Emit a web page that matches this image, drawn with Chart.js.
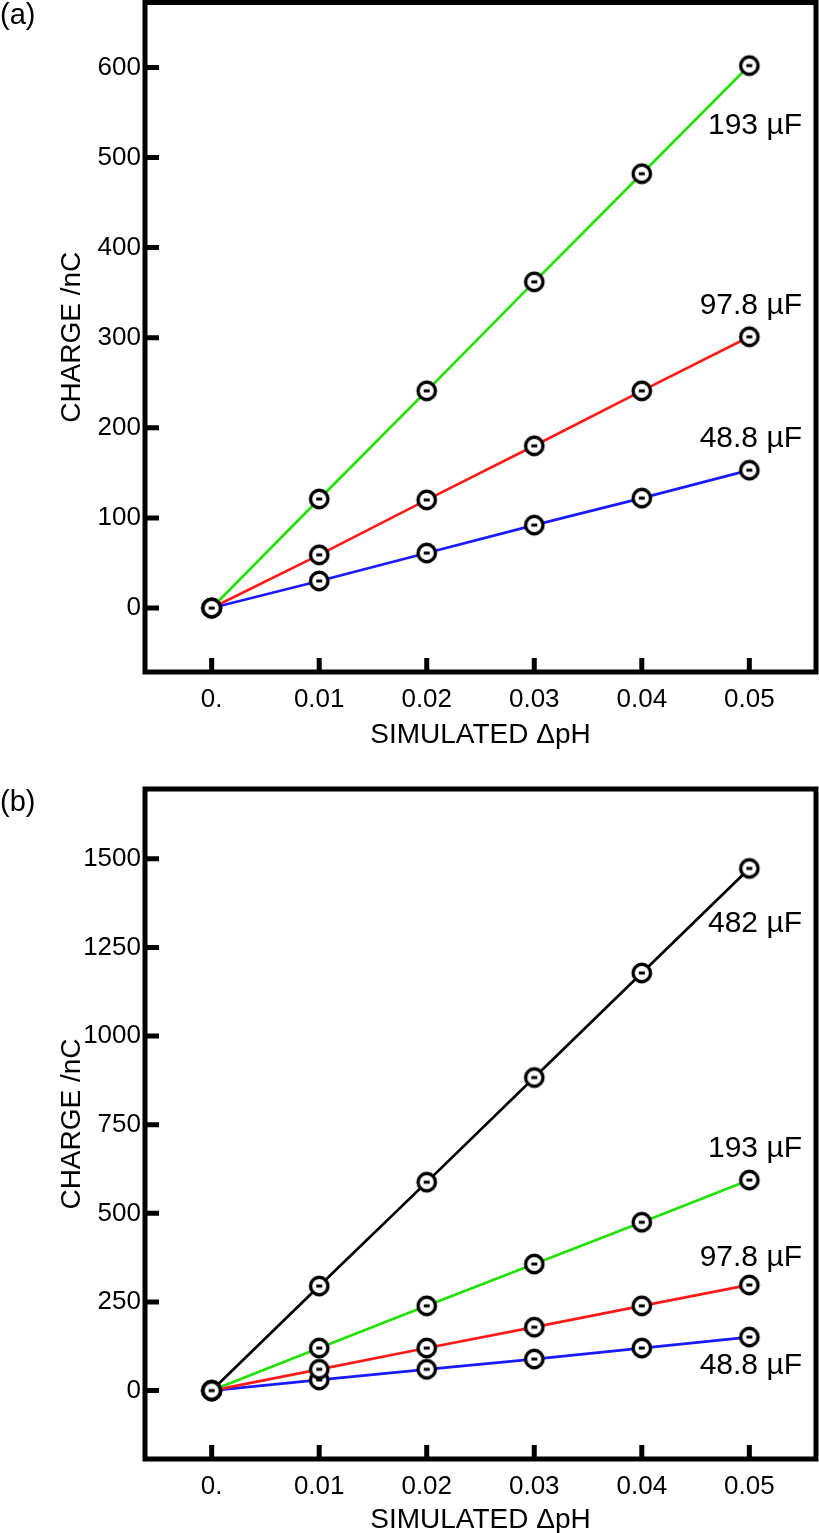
<!DOCTYPE html>
<html>
<head>
<meta charset="utf-8">
<script src="https://cdn.jsdelivr.net/npm/chart.js@4"></script>
<style>
  html, body { margin: 0; padding: 0; background: #fff; overflow: hidden; }
  body { width: 819px; height: 1533px; position: relative; font-family: "Liberation Sans", Arial, sans-serif; }
  .panel { position: absolute; left: 0; }
  .tag { position: absolute; left: 0; font-size: 29px; line-height: 1; color: #000; }
</style>
</head>
<body>
<canvas id="chartA" class="panel" width="819" height="770" style="top:0"></canvas>
<canvas id="chartB" class="panel" width="819" height="790" style="top:770px"></canvas>
<div class="tag" style="top:0">(a)</div>
<div class="tag" style="top:787px">(b)</div>
<script>
// shared x axis
const xValues = [0, 0.01, 0.02, 0.03, 0.04, 0.05];
const xTickLabels = ['0.', '0.01', '0.02', '0.03', '0.04', '0.05'];

// panel (a)
const a193 = [0, 121, 241, 362, 482, 602];
const a978 = [0, 59, 120, 180, 241, 301];
const a488 = [0, 30, 61, 92, 122, 153];
const yTicksA = [0, 100, 200, 300, 400, 500, 600];

// panel (b)
const b482 = [0, 295, 588, 883, 1178, 1473];
const b193 = [0, 120, 239, 357, 475, 594];
const b978 = [0, 60, 120, 179, 239, 298];
const b488 = [0, 30, 60, 89, 120, 151];
const yTicksB = [0, 250, 500, 750, 1000, 1250, 1500];

const FONT = '"Liberation Sans", Arial, sans-serif';
Chart.defaults.font.family = FONT;
Chart.defaults.color = '#000';

// open circle with a small dash in the middle
function marker() {
  const c = document.createElement('canvas');
  c.width = 26; c.height = 26;
  const g = c.getContext('2d');
  g.beginPath();
  g.arc(13, 13, 8.7, 0, Math.PI * 2);
  g.fillStyle = '#fff';
  g.fill();
  g.lineWidth = 3.4;
  g.strokeStyle = '#000';
  g.stroke();
  g.fillStyle = '#000';
  g.fillRect(10, 11.5, 6, 3);
  return c;
}
const dot = marker();

function series(label, values, color, labelShift) {
  return {
    label: label,
    data: xValues.map((x, i) => ({ x: x, y: values[i] })),
    borderColor: color,
    borderWidth: 2.7,
    pointStyle: dot,
    tension: 0,
    labelShift: labelShift
  };
}

// thick frame, inward ticks and the capacitance labels
const framePlugin = {
  id: 'frame',
  afterDraw(chart) {
    const { ctx, chartArea: ca, scales } = chart;
    ctx.save();
    ctx.strokeStyle = '#000';
    ctx.lineWidth = 5;
    ctx.strokeRect(ca.left, ca.top, ca.right - ca.left, ca.bottom - ca.top);
    ctx.beginPath();
    scales.y.ticks.forEach(t => {
      const y = scales.y.getPixelForValue(t.value);
      ctx.moveTo(ca.left, y);
      ctx.lineTo(ca.left + 14, y);
    });
    scales.x.ticks.forEach(t => {
      const x = scales.x.getPixelForValue(t.value);
      ctx.moveTo(x, ca.bottom);
      ctx.lineTo(x, ca.bottom - 14);
    });
    ctx.stroke();

    ctx.font = '30px ' + FONT;
    ctx.fillStyle = '#000';
    ctx.textAlign = 'right';
    ctx.textBaseline = 'middle';
    chart.data.datasets.forEach(ds => {
      const last = ds.data[ds.data.length - 1];
      ctx.fillText(ds.label, ca.right - 14, scales.y.getPixelForValue(last.y) + ds.labelShift);
    });
    ctx.restore();
  }
};

function makeChart(id, datasets, yMin, yMax, yTicks, lay) {
  return new Chart(document.getElementById(id), {
    type: 'line',
    data: { datasets: datasets },
    options: {
      responsive: false,
      animation: false,
      devicePixelRatio: 1,
      layout: { autoPadding: false, padding: { top: lay.top, right: 3, left: 0, bottom: 0 } },
      plugins: { legend: { display: false }, tooltip: { enabled: false } },
      scales: {
        x: {
          type: 'linear',
          min: -0.0062,
          max: 0.0562,
          afterBuildTicks: s => { s.ticks = xValues.map(v => ({ value: v })); },
          afterFit: s => { s.height = lay.xHeight; s.paddingLeft = 0; s.paddingRight = 0; },
          grid: { display: false, drawTicks: false, tickLength: 0 },
          border: { display: false },
          ticks: {
            padding: 12, autoSkip: false, maxRotation: 0, color: '#000',
            font: { size: 26 },
            callback: (v, i) => xTickLabels[i]
          },
          title: {
            display: true, text: 'SIMULATED ΔpH', color: '#000',
            font: { size: 28 }, padding: { top: 0, bottom: lay.xTitle }
          }
        },
        y: {
          min: yMin,
          max: yMax,
          afterBuildTicks: s => { s.ticks = yTicks.map(v => ({ value: v })); },
          afterFit: s => { s.width = 145; s.paddingTop = 0; s.paddingBottom = 0; },
          grid: { display: false, drawTicks: false, tickLength: 0 },
          border: { display: false },
          ticks: { padding: 4, color: '#000', font: { size: 26 }, callback: v => String(v) },
          title: {
            display: true, text: 'CHARGE /nC', color: '#000',
            font: { size: 28 }, padding: { top: 55, bottom: 0 }
          }
        }
      }
    },
    plugins: [framePlugin]
  });
}

makeChart('chartA', [
  series('193 µF', a193, '#22e000', 60),
  series('97.8 µF', a978, '#ff1a1a', -31),
  series('48.8 µF', a488, '#1a1aff', -31)
], -71, 672, yTicksA, { top: 2.5, xHeight: 98, xTitle: 18 });

makeChart('chartB', [
  series('482 µF', b482, '#000000', 55),
  series('193 µF', b193, '#22e000', -31),
  series('97.8 µF', b978, '#ff1a1a', -27),
  series('48.8 µF', b488, '#1a1aff', 29)
], -193, 1697, yTicksB, { top: 19, xHeight: 101, xTitle: 23 });
</script>
</body>
</html>
